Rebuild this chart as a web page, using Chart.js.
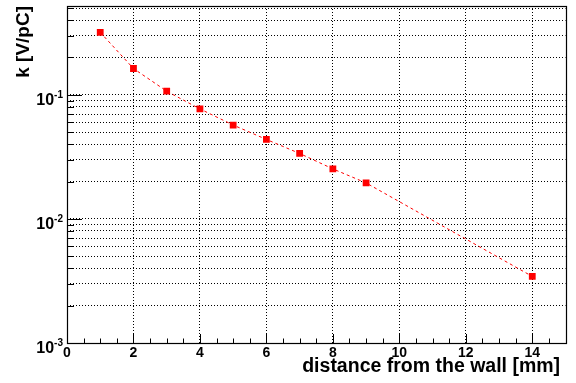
<!DOCTYPE html>
<html>
<head>
<meta charset="utf-8">
<script src="https://cdn.jsdelivr.net/npm/chart.js@4.4.1/dist/chart.umd.min.js"></script>
<style>
  html, body { margin: 0; padding: 0; background: #fff; }
  #wrap { width: 576px; height: 383px; }
</style>
</head>
<body>
<div id="wrap"><canvas id="chart" width="576" height="383"></canvas></div>
<script>
// distance from the wall [mm] vs k [V/pC]
const distances = [1, 2, 3, 4, 5, 6, 7, 8, 9, 14];
const kValues = [0.319, 0.163, 0.107, 0.077, 0.0571, 0.0437, 0.0337, 0.0253, 0.0195, 0.00344];

// axis setup
const xLabelValues = [0, 2, 4, 6, 8, 10, 12, 14];
const yDecades = [-3, -2, -1];
const yMantissas = [1, 2, 3, 4, 5, 6, 7, 8, 9];

const FONT = "'Liberation Sans', Arial, Helvetica, sans-serif";

const yGridValues = [];
yDecades.forEach(d => yMantissas.forEach(m => yGridValues.push(m * Math.pow(10, d))));

// ROOT-like frame, inner tick marks and 10^n labels
const rootFrame = {
    id: 'rootFrame',
    afterDraw(chart) {
        const { ctx, chartArea: a, scales: { x, y } } = chart;
        ctx.save();
        ctx.strokeStyle = '#000';
        ctx.lineWidth = 1;
        ctx.setLineDash([]);
        ctx.beginPath();
        x.ticks.forEach(t => {
            const px = Math.round(x.getPixelForValue(t.value)) + 0.5;
            const len = xLabelValues.includes(t.value) ? 9 : 4.5;
            ctx.moveTo(px, a.bottom);
            ctx.lineTo(px, a.bottom - len);
        });
        y.ticks.forEach(t => {
            const py = Math.round(y.getPixelForValue(t.value)) + 0.5;
            const exp = Math.round(Math.log10(t.value));
            const len = Math.abs(t.value - Math.pow(10, exp)) < 1e-9 ? 15 : 7;
            ctx.moveTo(a.left, py);
            ctx.lineTo(a.left + len, py);
        });
        ctx.stroke();
        ctx.lineWidth = 1.2;
        ctx.strokeRect(Math.round(a.left) + 0.5, Math.round(a.top) + 0.5,
            Math.round(a.right - a.left), Math.round(a.bottom - a.top));

        // decade labels 10^n
        ctx.fillStyle = '#000';
        ctx.textBaseline = 'alphabetic';
        yDecades.forEach(d => {
            const py = y.getPixelForValue(Math.pow(10, d));
            const sup = String(d);
            ctx.font = 'bold 10px ' + FONT;
            const supW = ctx.measureText(sup).width;
            const right = a.left - 4;
            ctx.textAlign = 'left';
            ctx.fillText(sup, right - supW, py + 3);
            ctx.font = 'bold 16px ' + FONT;
            ctx.textAlign = 'right';
            ctx.fillText('10', right - supW, py + 10);
        });
        ctx.restore();
    }
};

new Chart(document.getElementById('chart'), {
    type: 'line',
    data: {
        datasets: [{
            data: distances.map((d, i) => ({ x: d, y: kValues[i] })),
            borderColor: '#ff0000',
            backgroundColor: '#ff0000',
            borderWidth: 1,
            borderDash: [3, 3],
            pointStyle: 'rect',
            pointRadius: 4.8,
            pointBorderWidth: 0,
            tension: 0,
        }]
    },
    options: {
        responsive: false,
        animation: false,
        layout: { padding: { left: 0, right: 10.5, top: 6, bottom: 0 } },
        plugins: {
            legend: { display: false },
            tooltip: { enabled: false }
        },
        scales: {
            x: {
                type: 'linear',
                min: 0,
                max: 15,
                afterFit: (s) => { s.height = 40; },
                grid: {
                    drawTicks: false,
                    color: (c) => (c.tick && c.tick.value > 0 && c.tick.value < 15 && xLabelValues.includes(c.tick.value)) ? '#000' : 'rgba(0,0,0,0)',
                    lineWidth: 1,
                },
                border: { display: false, dash: [1, 2] },
                ticks: {
                    stepSize: 0.5,
                    autoSkip: false,
                    maxRotation: 0,
                    padding: 2,
                    color: '#000',
                    font: { family: FONT, size: 14, weight: 'bold' },
                    callback: (v) => xLabelValues.includes(v) ? String(v) : ''
                },
                title: {
                    display: true,
                    text: 'distance from the wall [mm] ',
                    align: 'end',
                    color: '#000',
                    font: { family: FONT, size: 19.5, weight: 'bold' },
                    padding: { top: 0, bottom: 5 }
                }
            },
            y: {
                type: 'logarithmic',
                min: 0.001,
                max: 0.52,
                afterFit: (s) => { s.width = 67; },
                afterBuildTicks: (s) => { s.ticks = yGridValues.map(v => ({ value: v })); },
                grid: {
                    drawTicks: false,
                    color: '#000',
                    lineWidth: 1,
                },
                border: { display: false, dash: [1, 2] },
                ticks: { display: false, autoSkip: false },
                title: {
                    display: true,
                    text: 'k [V/pC]',
                    align: 'end',
                    color: '#000',
                    font: { family: FONT, size: 19, weight: 'bold' },
                    padding: { top: 12, bottom: 0 }
                }
            }
        }
    },
    plugins: [rootFrame]
});
</script>
</body>
</html>
